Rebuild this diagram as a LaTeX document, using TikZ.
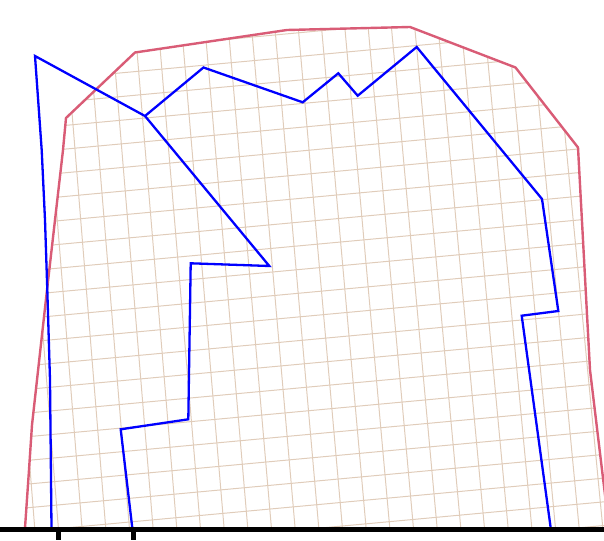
\documentclass[tikz,border=0pt]{standalone}
\definecolor{hullred}{RGB}{217,92,118}
\definecolor{gridtan}{RGB}{224,204,186}
\definecolor{pathblue}{RGB}{0,0,255}
\tikzset{
  gridline/.style={draw=gridtan, line width=1pt},
  hullline/.style={draw=hullred, line width=2.4pt, line join=round},
  routeline/.style={draw=pathblue, line width=2.3pt},
  baseline/.style={draw=black, line width=5pt},
  tickline/.style={draw=black, line width=4.5pt}
}
\begin{document}
\begin{tikzpicture}[x=1pt, y=-1pt]
\useasboundingbox (0,0) rectangle (604,540);
\clip (0,0) rectangle (604,540);
% grid clipped to hull
\begin{scope}
  \clip (25,528) -- (29,470) -- (32,425) -- (37,380) -- (42,335) -- (47,290) -- (55,220) -- (63,150) -- (66,118) -- (135,52.5) -- (287,30) -- (410,27) -- (515.5,67.5) -- (578,147.5) -- (590,370) -- (609,528) -- cycle;
  \foreach \k in {-3,...,26} {
    \pgfmathsetmacro{\xb}{58.3+23.67*\k}
    \pgfmathsetmacro{\dx}{-36.7-0.33*\k}
    \pgfmathsetmacro{\xtop}{\xb+1.1449*\dx}
    \pgfmathsetmacro{\xbot}{\xb-0.02824*\dx}
    \draw[gridline] (\xtop,0) -- (\xbot,540);
  }
  \foreach \k in {-2,...,23} {
    \pgfmathsetmacro{\yl}{534-23.68*\k}
    \pgfmathsetmacro{\yr}{478.13-23.68*\k}
    \draw[gridline] (0,\yl) -- (604,\yr);
  }
\end{scope}
% hull outline
\draw[hullline] (25,528) -- (29,470) -- (32,425) -- (37,380) -- (42,335) -- (47,290) -- (55,220) -- (63,150) -- (66,118) -- (135,52.5) -- (287,30) -- (410,27) -- (515.5,67.5) -- (578,147.5) -- (590,370) -- (609,528);
% blue routes
\draw[routeline] (51.5,528) -- (50,380) -- (47.3,290) -- (45,220) -- (41.7,150) -- (35,56) -- (145,116) -- (203.5,67.5) -- (302.7,102.3) -- (338.3,73.3) -- (357.7,95.7) -- (416.7,47) -- (542,199) -- (558.3,311) -- (521.7,315.7) -- (550.7,528);
\draw[routeline] (132.3,528) -- (120.7,429.3) -- (188.3,419.3) -- (190.7,263.3) -- (269.3,266) -- (145,116);
% baseline and ticks
\draw[baseline] (0,529.2) -- (604,529.2);
\draw[tickline] (58.3,529) -- (58.3,540);
\draw[tickline] (133.3,529) -- (133.3,540);
\end{tikzpicture}
\end{document}
